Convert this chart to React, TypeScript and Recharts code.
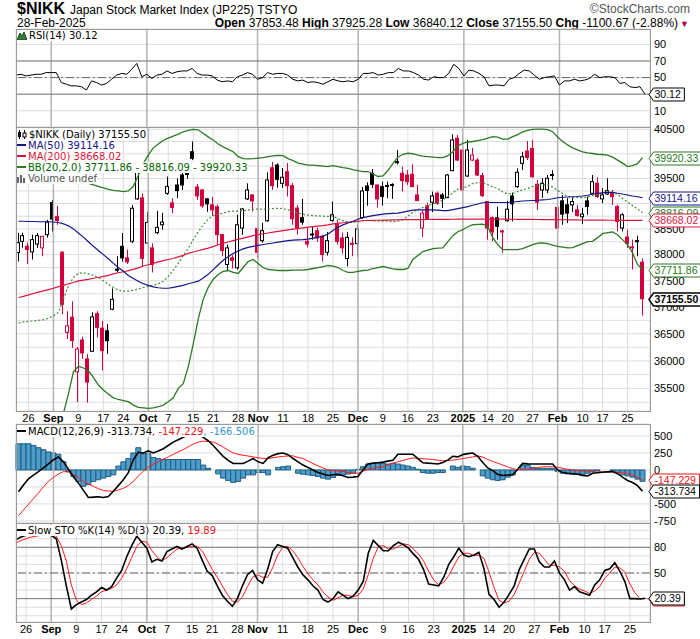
import React from 'react';
import {
  ComposedChart, Bar, Line, XAxis, YAxis, CartesianGrid, ReferenceLine, ReferenceDot,
} from 'recharts';

// trading days, Aug 22 2024 .. Feb 28 2025 (TSE calendar)
const MONTH_DAYS: [string, number[]][] = [
  ['2024-08', [22, 23, 26, 27, 28, 29, 30]],
  ['2024-09', [2, 3, 4, 5, 6, 9, 10, 11, 12, 13, 17, 18, 19, 20, 24, 25, 26, 27, 30]],
  ['2024-10', [1, 2, 3, 4, 7, 8, 9, 10, 11, 15, 16, 17, 18, 21, 22, 23, 24, 25, 28, 29, 30, 31]],
  ['2024-11', [1, 5, 6, 7, 8, 11, 12, 13, 14, 15, 18, 19, 20, 21, 22, 25, 26, 27, 28, 29]],
  ['2024-12', [2, 3, 4, 5, 6, 9, 10, 11, 12, 13, 16, 17, 18, 19, 20, 23, 24, 25, 26, 27, 30]],
  ['2025-01', [6, 7, 8, 9, 10, 14, 15, 16, 17, 20, 21, 22, 23, 24, 27, 28, 29, 30, 31]],
  ['2025-02', [3, 4, 5, 6, 7, 10, 12, 13, 14, 17, 18, 19, 20, 21, 25, 26, 27, 28]],
];

const X_TICKS: [string, string][] = [
  ['2024-08-26', '26'], ['2024-09-02', 'Sep'], ['2024-09-09', '9'], ['2024-09-17', '17'], ['2024-09-24', '24'],
  ['2024-10-01', 'Oct'], ['2024-10-07', '7'], ['2024-10-15', '15'], ['2024-10-21', '21'], ['2024-10-28', '28'],
  ['2024-11-01', 'Nov'], ['2024-11-11', '11'], ['2024-11-18', '18'], ['2024-11-25', '25'],
  ['2024-12-02', 'Dec'], ['2024-12-09', '9'], ['2024-12-16', '16'], ['2024-12-23', '23'],
  ['2025-01-06', '2025'], ['2025-01-14', '14'], ['2025-01-20', '20'], ['2025-01-27', '27'],
  ['2025-02-03', 'Feb'], ['2025-02-10', '10'], ['2025-02-17', '17'], ['2025-02-25', '25'],
];
const MONTH_STARTS = ['2024-09-02', '2024-10-01', '2024-11-01', '2024-12-02', '2025-01-06', '2025-02-03'];

const OPEN = [
  38040, 38258, 38160, 38050, 38205, 38130, 38387, 39019, 38741, 38045,
  36525, 36809, 35800, 36384, 36036, 36176, 36875, 36605, 36555, 36958,
  37720, 38160, 37937, 38258, 39092, 39112, 38225, 38130, 38426, 38581,
  39203, 39013, 39370, 39570, 39600, 40041, 39330, 39270, 39092, 38973,
  38934, 38387, 37809, 37937, 37745, 38517, 39092, 39171, 38503, 38271,
  38660, 39716, 39771, 39404, 39636, 39356, 38910, 38723, 38258, 38390,
  38465, 38355, 38045, 38665, 38595, 38323, 37924, 38220, 38213, 38724,
  39350, 39604, 39370, 39336, 39350, 39380, 39830, 39604, 39570, 39584,
  39171, 38517, 38954, 39026, 39204, 39171, 39117, 39656, 40316, 40075,
  39550, 39872, 39872, 39556, 39039, 38718, 38718, 38460, 38660, 39151,
  39336, 39805, 40055, 40110, 39384, 39270, 39270, 39560, 38920, 39052,
  38973, 38973, 38875, 38738, 39052, 39204, 39404, 39092, 39191, 39204,
  38940, 38517, 38342, 38150, 38270, 37853.48,
];
const HIGH = [
  38425, 38425, 38230, 38387, 38420, 38360, 38679, 39072, 38954, 38068,
  36921, 37108, 36255, 36445, 36127, 36902, 36921, 36740, 36679, 37352,
  37968, 38420, 38097, 38973, 39830, 39200, 38836, 38218, 38855, 38817,
  39537, 39105, 39502, 39690, 39771, 40250, 39390, 39290, 39111, 39131,
  38973, 38400, 38193, 37985, 38777, 38915, 39403, 39180, 38523, 38619,
  39623, 39832, 39806, 39710, 39812, 39410, 38973, 39092, 38532, 38542,
  38523, 38387, 38439, 39039, 38679, 38425, 38436, 38335, 38581, 39330,
  39424, 39690, 39380, 39436, 39436, 39404, 40075, 39737, 39670, 39785,
  39370, 38875, 39019, 39237, 39237, 39211, 39590, 40398, 40383, 40219,
  40281, 40116, 39912, 39610, 39045, 38744, 38940, 38484, 39052, 39217,
  39704, 40041, 40260, 40281, 39470, 39510, 39570, 39670, 38973, 39171,
  39105, 39117, 38973, 38908, 39138, 39570, 39524, 39304, 39504, 39270,
  38973, 38810, 38484, 38290, 38368, 37925.28,
];
const LOW = [
  37866, 38135, 37820, 37905, 38130, 37968, 38330, 38450, 38581, 36865,
  36402, 36240, 35255, 36036, 35244, 36164, 36433, 35824, 36127, 36940,
  37656, 37866, 37820, 38225, 39072, 37777, 38212, 37656, 38400, 38484,
  39171, 38810, 39105, 39270, 39497, 39872, 39072, 38914, 38836, 38757,
  38193, 37968, 37680, 37732, 37713, 38387, 39072, 38842, 37932, 38230,
  38640, 39270, 39316, 39310, 39138, 38581, 38387, 38581, 38141, 38290,
  38250, 37866, 37982, 38640, 38193, 38020, 37776, 37968, 37962, 38698,
  38954, 39310, 38920, 38960, 39105, 39092, 39785, 39237, 39370, 39330,
  39052, 38335, 38679, 38830, 38973, 38910, 39111, 39650, 39852, 39231,
  39530, 39852, 39550, 39131, 38290, 38257, 38290, 38033, 38640, 38646,
  39310, 39670, 39872, 39510, 38875, 39111, 39204, 39470, 38400, 38581,
  38614, 38830, 38738, 38595, 38777, 39190, 39111, 39006, 39171, 38973,
  38450, 38450, 38130, 37713, 37968, 36840.12,
];
const CLOSE = [
  38230, 38368, 38097, 38290, 38368, 38355, 38633, 38692, 38665, 37051,
  36648, 36375, 36218, 36145, 35614, 36815, 36620, 36188, 36372, 37145,
  37700, 37937, 37860, 38907, 39800, 37924, 38627, 37809, 38530, 38633,
  39337, 38924, 39256, 39370, 39580, 39906, 39151, 38954, 38993, 38875,
  38387, 38078, 38130, 37890, 38581, 38893, 39270, 39052, 38045, 38465,
  39470, 39356, 39484, 39524, 39356, 38698, 38517, 38633, 38206, 38400,
  38323, 38001, 38271, 38777, 38257, 38130, 38335, 38200, 38498, 39250,
  39262, 39384, 39092, 39138, 39360, 39365, 39840, 39456, 39436, 39336,
  39058, 38810, 38692, 39151, 39006, 39105, 39570, 40281, 39872, 39270,
  40075, 39973, 39570, 39157, 38517, 38440, 38549, 38445, 38888, 38993,
  39624, 39939, 39926, 39536, 39026, 39404, 39504, 39580, 38517, 38791,
  38810, 39039, 38764, 38791, 38940, 39436, 39138, 39171, 39256, 39138,
  38646, 38777, 38213, 38140, 38256.17, 37155.5,
];

const MA50 = [
  38650, 38650, 38645, 38645, 38640, 38640, 38640, 38635, 38625, 38600,
  38560, 38500, 38420, 38340, 38250, 38160, 38080, 38000, 37920, 37830,
  37750, 37680, 37600, 37540, 37490, 37440, 37410, 37380, 37365, 37355,
  37355, 37370, 37390, 37410, 37440, 37465, 37490, 37550, 37620, 37710,
  37800, 37890, 37960, 38020, 38070, 38110, 38140, 38160, 38180, 38195,
  38210, 38225, 38240, 38255, 38270, 38280, 38285, 38290, 38300, 38320,
  38340, 38355, 38400, 38470, 38530, 38580, 38615, 38650, 38690, 38720,
  38740, 38760, 38775, 38790, 38800, 38805, 38810, 38830, 38850, 38870,
  38875, 38875, 38875, 38875, 38870, 38860, 38860, 38880, 38900, 38920,
  38940, 38965, 38990, 39015, 39020, 39020, 39020, 39020, 39020, 39030,
  39040, 39050, 39055, 39060, 39065, 39072, 39080, 39095, 39115, 39125,
  39130, 39135, 39140, 39150, 39165, 39185, 39200, 39210, 39222, 39220,
  39205, 39190, 39170, 39150, 39135, 39114.16,
];
const MA200 = [
  37180, 37200, 37230, 37255, 37280, 37305, 37330, 37355, 37385, 37410,
  37440, 37465, 37495, 37510, 37525, 37545, 37560, 37580, 37600, 37630,
  37650, 37670, 37690, 37715, 37745, 37780, 37805, 37830, 37860, 37885,
  37905, 37925, 37955, 37985, 38025, 38050, 38075, 38100, 38125, 38155,
  38190, 38220, 38245, 38270, 38295, 38320, 38345, 38370, 38390, 38405,
  38420, 38435, 38450, 38465, 38480, 38495, 38505, 38520, 38535, 38545,
  38555, 38565, 38580, 38600, 38610, 38620, 38630, 38640, 38650, 38660,
  38665, 38668, 38670, 38672, 38674, 38676, 38678, 38680, 38680, 38681,
  38682, 38683, 38684, 38685, 38686, 38687, 38688, 38689, 38690, 38690,
  38690, 38690, 38691, 38691, 38692, 38692, 38692, 38691, 38690, 38689,
  38688, 38687, 38686, 38685, 38684, 38683, 38682, 38681, 38680, 38679,
  38678, 38677, 38676, 38675, 38674, 38673, 38672, 38671, 38670, 38670,
  38669, 38669, 38668, 38668, 38668, 38668.02,
];
const BB_UPPER = [
  39650, 39650, 39640, 39620, 39600, 39580, 39560, 39540, 39510, 39480,
  39470, 39450, 39430, 39415, 39400, 39370, 39340, 39310, 39280, 39260,
  39250, 39237, 39250, 39337, 39560, 39805, 39970, 40120, 40200, 40270,
  40320, 40360, 40400, 40450, 40480, 40500, 40490, 40420, 40345, 40280,
  40200, 40140, 40090, 40040, 39940, 39900, 39895, 39900, 39910, 39920,
  39940, 39955, 39968, 39960, 39900, 39860, 39810, 39790, 39770, 39770,
  39760, 39750, 39740, 39760, 39740, 39720, 39705, 39680, 39660, 39640,
  39640, 39590, 39540, 39550, 39660, 39800, 39930, 39990, 40010, 40000,
  39970, 39950, 39940, 39930, 39920, 39920, 39960, 40040, 40160, 40210,
  40240, 40250, 40270, 40290, 40320, 40350, 40340, 40300, 40300, 40350,
  40390, 40450, 40480, 40500, 40505, 40505, 40495, 40450, 40340, 40250,
  40180, 40120, 40080, 40040, 40020, 40005, 39990, 39985, 39970, 39930,
  39870, 39810, 39740, 39760, 39800, 39920.33,
];
const BB_MID = [
  36700, 36720, 36730, 36740, 36750, 36760, 36790, 36830, 36900, 37150,
  37400, 37560, 37640, 37650, 37630, 37600, 37560, 37500, 37430, 37370,
  37320, 37300, 37300, 37315, 37340, 37370, 37390, 37410, 37440, 37490,
  37580, 37700, 37830, 37980, 38120, 38290, 38440, 38580, 38690, 38760,
  38790, 38810, 38840, 38850, 38850, 38860, 38870, 38885, 38890, 38890,
  38895, 38900, 38905, 38900, 38875, 38840, 38810, 38790, 38770, 38760,
  38755, 38750, 38745, 38750, 38700, 38660, 38640, 38630, 38640, 38660,
  38670, 38660, 38650, 38655, 38650, 38640, 38650, 38680, 38750, 38830,
  38880, 38920, 38960, 38990, 39030, 39070, 39140, 39210, 39290, 39310,
  39340, 39400, 39415, 39420, 39380, 39330, 39300, 39230, 39190, 39200,
  39240, 39270, 39300, 39340, 39360, 39370, 39370, 39330, 39260, 39200,
  39140, 39120, 39120, 39115, 39130, 39160, 39185, 39215, 39240, 39210,
  39180, 39100, 39030, 38960, 38890, 38816.09,
];
const BB_LOWER = [
  34200, 34250, 34300, 34350, 34400, 34450, 34500, 34600, 34700, 35050,
  35400, 35800, 35900, 35870, 35820, 35700, 35560, 35470, 35400, 35330,
  35300, 35280, 35260, 35200, 35160, 35150, 35140, 35150, 35170, 35200,
  35260, 35330, 35500, 35584, 35890, 36310, 36772, 37145, 37371, 37523,
  37618, 37675, 37694, 37656, 37637, 37751, 37866, 37905, 37828, 37751,
  37713, 37705, 37694, 37694, 37694, 37700, 37700, 37700, 37713, 37732,
  37751, 37770, 37790, 37776, 37751, 37694, 37656, 37656, 37675, 37694,
  37700, 37732, 37751, 37770, 37751, 37726, 37713, 37713, 37732, 37905,
  37982, 38059, 38088, 38116, 38125, 38130, 38251, 38368, 38445, 38484,
  38542, 38581, 38590, 38595, 38549, 38329, 38193, 38097, 38097, 38097,
  38097, 38116, 38155, 38193, 38222, 38225, 38213, 38184, 38160, 38145,
  38130, 38135, 38174, 38213, 38251, 38257, 38329, 38406, 38425, 38439,
  38387, 38290, 38193, 38033, 37809, 37711.86,
];

const RSI = [
  53, 54, 52, 53, 54, 54, 56, 56, 56, 44,
  42, 40, 40, 39, 35, 46, 44, 41, 43, 48,
  53, 55, 54, 60, 67, 51, 54, 49, 53, 54,
  58, 55, 57, 58, 58, 61, 55, 53, 53, 52,
  47, 45, 46, 45, 51, 53, 56, 54, 48, 50,
  56, 54, 55, 55, 53, 48, 46, 47, 44, 45,
  44, 42, 45, 48, 46, 45, 46, 45, 48, 55,
  55, 56, 53, 54, 56, 56, 61, 58, 58, 56,
  53, 48, 47, 51, 50, 50, 55, 66, 61, 52,
  59, 58, 55, 51, 40, 41, 41, 40, 48, 50,
  55, 59, 58, 53, 48, 50, 51, 52, 41, 46,
  46, 48, 46, 47, 49, 54, 50, 51, 51, 50,
  43, 44, 39, 38, 39, 30.12,
];

const MACD = [
  -320, -220, -130, -75, -25, 30, 90, 150, 190, 120,
  10, -100, -190, -300, -405, -400, -395, -405, -390, -313,
  -230, -144, -40, 150, 260, 250, 280, 250, 280, 313,
  360, 409, 445, 481, 520, 550, 530, 480, 430, 360,
  280, 200, 140, 96, 96, 96, 130, 168, 120, 96,
  180, 215, 240, 250, 225, 168, 120, 72, 35, 0,
  -38, -60, -82, -70, -63, -85, -110, -105, -96, 0,
  87, 100, 106, 115, 130, 144, 231, 231, 231, 231,
  168, 106, 100, 96, 87, 110, 144, 202, 192, 226,
  240, 250, 200, 110, 30, -10, -65, -82, -75, -72,
  10, 96, 90, 87, 87, 87, 87, 87, 0, -38,
  -48, -55, -63, -80, -87, -48, -40, -34, -28, -24,
  -55, -105, -155, -185, -230, -313.734,
];
const SIGNAL = [
  -673, -590, -505, -420, -337, -250, -168, -110, -58, -24,
  -30, -72, -110, -168, -205, -240, -275, -303, -310, -313,
  -295, -270, -230, -168, -90, -20, 40, 85, 125, 160,
  192, 230, 265, 300, 340, 380, 410, 423, 420, 409,
  380, 337, 290, 250, 230, 216, 205, 192, 180, 170,
  168, 180, 192, 200, 205, 207, 185, 168, 130, 95,
  60, 30, 0, -10, -14, -20, -38, -45, -48, -20,
  10, 25, 38, 48, 75, 100, 120, 140, 160, 178,
  170, 165, 160, 154, 145, 135, 140, 144, 155, 168,
  180, 192, 207, 190, 154, 125, 100, 72, 45, 20,
  0, 5, 10, 20, 38, 45, 48, 48, 40, 25,
  10, 0, -8, -14, -20, -29, -29, -27, -24, -30,
  -38, -40, -55, -72, -105, -147.229,
];
const HIST = [
  385, 385, 385, 361, 327, 298, 265, 250, 231, 120,
  -24, -96, -168, -240, -216, -168, -144, -120, -96, -72,
  58, 120, 168, 250, 327, 240, 240, 183, 168, 154,
  154, 154, 154, 154, 154, 154, 154, 72, 24, 0,
  -58, -120, -154, -183, -168, -120, -72, -72, -38, -38,
  -72, 0, 38, 48, 58, 0, -48, -63, -72, -82,
  -96, -120, -135, -110, -82, -72, -60, -48, 10, 48,
  87, 96, 106, 96, 87, 96, 87, 72, 58, 38,
  10, -38, -48, -48, -38, -38, 0, 58, 38, 58,
  48, 24, 0, -87, -120, -144, -154, -144, -106, -72,
  0, 72, 72, 38, 24, 24, 24, 24, -24, -48,
  -58, -63, -58, -63, -48, -24, -10, 0, 0, -10,
  -38, -72, -87, -106, -135, -166.506,
];

const STO_K = [
  89, 92, 94, 95, 95, 95, 95, 94, 90, 65,
  35, 8, 13, 16, 19, 24, 28, 33, 30, 34,
  44, 53, 69, 82, 93, 86, 79, 63, 66, 64,
  75, 78, 81, 78, 81, 84, 79, 65, 52, 47,
  35, 24, 17, 11, 20, 35, 48, 53, 42, 38,
  54, 75, 83, 81, 79, 68, 57, 48, 42, 35,
  30, 19, 16, 20, 28, 24, 20, 23, 30, 40,
  73, 88, 82, 76, 76, 82, 86, 83, 79, 72,
  66, 54, 37, 36, 35, 45, 60, 69, 79, 71,
  69, 71, 74, 55, 25, 19, 10, 16, 25, 35,
  54, 66, 78, 78, 63, 57, 57, 64, 50, 42,
  30, 34, 28, 26, 24, 36, 42, 53, 55, 62,
  52, 40, 20, 20, 19.5, 20.39,
];
const STO_D = [
  85, 88, 90, 92, 93, 94, 95, 95, 93, 82,
  64, 36, 18, 13, 15, 19, 23, 28, 30, 32,
  36, 44, 55, 68, 81, 87, 86, 76, 69, 64,
  68, 73, 78, 79, 80, 81, 81, 76, 65, 54,
  45, 35, 25, 17, 16, 22, 34, 45, 48, 45,
  45, 56, 71, 80, 81, 76, 68, 58, 49, 42,
  36, 28, 22, 18, 21, 24, 24, 22, 24, 31,
  48, 67, 81, 82, 78, 78, 81, 84, 83, 78,
  72, 64, 52, 42, 36, 39, 47, 58, 69, 73,
  73, 70, 71, 67, 51, 33, 18, 15, 17, 25,
  38, 52, 66, 74, 73, 66, 59, 59, 57, 52,
  41, 35, 31, 29, 26, 29, 34, 44, 50, 57,
  56, 51, 37, 27, 20, 19.89,
];

const PRICE_TICKS = [
  35250, 35500, 35750, 36000, 36250, 36500, 36750, 37000, 37250, 37500, 37750,
  38000, 38250, 38500, 38750, 39000, 39250, 39500, 39750, 40000, 40250, 40500,
];
// labels that sit fully under a value box in the reference
const PRICE_HIDDEN = [40000, 39000];

const FONT = '"Liberation Sans", Arial, sans-serif';
const LFONT = '"DejaVu Sans", Verdana, sans-serif';
const RED = '#d4003b';
const NAVY = '#14148c';
const CRIMSON = '#dc143c';
const GREEN = '#2a7a22';
const GRID = '#dddddd';
const MONTH_LINE = '#b4b4b4';
const HIST_FILL = '#4d9cc9';
const HIST_EDGE = '#1f5d80';

const DATES = MONTH_DAYS.flatMap(([m, days]) => days.map((d) => `${m}-${String(d).padStart(2, '0')}`));
const LAST = DATES[DATES.length - 1];
const TICK_VALUES = X_TICKS.map((t) => t[0]);
const TICK_LABEL: Record<string, string> = Object.fromEntries(X_TICKS);

const rows = DATES.map((d, i) => ({
  d,
  o: OPEN[i], h: HIGH[i], l: LOW[i], c: CLOSE[i], pc: i > 0 ? CLOSE[i - 1] : null,
  range: [LOW[i], HIGH[i]],
  ma50: MA50[i], ma200: MA200[i], bbu: BB_UPPER[i], bbm: BB_MID[i], bbl: BB_LOWER[i],
  rsi: RSI[i], macd: MACD[i], signal: SIGNAL[i], hist: HIST[i], k: STO_K[i], dd: STO_D[i],
}));

function Candle(props: any) {
  const { x, y, width, height, payload } = props;
  if (!payload || y == null || !height) return null;
  const { o, h, l, c, pc } = payload;
  const yTop = Math.min(y, y + height);
  const span = Math.abs(height);
  const lh = Math.log(h) - Math.log(l);
  const yAt = (v: number) => yTop + (span * (Math.log(h) - Math.log(v))) / lh;
  const wx = Math.round(x + width / 2);
  const color = pc == null || c >= pc ? '#000' : RED;
  const hollow = c > o;
  const b0 = yAt(Math.max(o, c));
  const b1 = Math.max(yAt(Math.min(o, c)), b0 + 1);
  return (
    <g>
      <line x1={wx - 0.5} x2={wx - 0.5} y1={yTop} y2={yTop + span} stroke={color} strokeWidth={1} />
      <rect x={wx - 2.5} y={b0} width={3} height={b1 - b0} fill={hollow ? '#fff' : color} stroke={color} strokeWidth={1} />
    </g>
  );
}

function textW(s: string) {
  let w = 0;
  for (const ch of s) w += ch === '.' ? 2.95 : ch === '-' ? 3.5 : 5.85;
  return w;
}

// value box with a left-pointing tip, sitting just right of the plot
function Tag({ cy, text, color, bold, boxOnly }: any) {
  if (cy == null) return null;
  const x0 = 649;
  const hh = 6.5;
  const w = textW(text) + 9;
  const yc = Math.round(cy) + 0.5;
  const pts = `${x0},${yc} ${x0 + 4.5},${yc - hh} ${x0 + w},${yc - hh} ${x0 + w},${yc + hh} ${x0 + 4.5},${yc + hh}`;
  return (
    <g>
      <polygon points={pts} fill="#fff" stroke={color} strokeWidth={bold ? 1.5 : 1} />
      {boxOnly ? null : (
        <text x={x0 + 5.5} y={yc} dy="0.36em" fontSize={10.5} fontFamily={FONT} fontWeight={bold ? 700 : 400} fill={color}>
          {text}
        </text>
      )}
    </g>
  );
}

function DateTick({ x, y, payload }: any) {
  const v = payload && payload.value;
  const bold = MONTH_STARTS.includes(v);
  return (
    <text x={x} y={y + 11} textAnchor="middle" fontSize={11} fontFamily={FONT} fontWeight={bold ? 700 : 400} fill="#000">
      {TICK_LABEL[v]}
    </text>
  );
}

function xAxis(labels: boolean, height: number) {
  return (
    <XAxis
      dataKey="d"
      type="category"
      ticks={TICK_VALUES}
      interval={0}
      height={height}
      padding={{ left: 0, right: 5 }}
      axisLine={false}
      tickLine={false}
      tickSize={0}
      tickMargin={0}
      tick={labels ? (p: any) => <DateTick {...p} /> : false}
    />
  );
}

function yAxis(domain: number[], ticks: number[], fmt?: (v: number) => string, log?: boolean, showTicks = true) {
  return (
    <YAxis
      orientation="right"
      width={50}
      type="number"
      scale={log ? 'log' : 'linear'}
      domain={domain}
      allowDataOverflow
      ticks={ticks}
      interval={0}
      tickFormatter={fmt}
      axisLine={false}
      tickLine={false}
      tickSize={0}
      tickMargin={4}
      tick={showTicks ? { fontSize: 11, fill: '#000', fontFamily: FONT } : false}
    />
  );
}

const monthLines = MONTH_STARTS.map((d) => (
  <ReferenceLine key={d} x={d} stroke={MONTH_LINE} strokeWidth={1.5} />
));

type TagSpec = { y: number; text: string; color: string; bold?: boolean; boxOnly?: boolean };

// a transparent chart with the same scales, drawn on top so the boxes cover the tick labels
function TagLayer({ height, top, bottom = 0, xh, domain, log, tags }: { height: number; top: number; bottom?: number; xh: number; domain: number[]; log?: boolean; tags: TagSpec[] }) {
  return (
    <div style={{ position: 'absolute', left: 0, top: 0 }}>
      <ComposedChart width={700} height={height} data={rows} margin={{ top, right: 0, bottom, left: 16 }}>
        {xAxis(false, xh)}
        {yAxis(domain, [], undefined, log, false)}
        {tags.map((t) => (
          <ReferenceDot
            key={t.text}
            x={LAST}
            y={t.y}
            r={0}
            shape={(p: any) => <Tag cy={p.cy} text={t.text} color={t.color} bold={t.bold} boxOnly={t.boxOnly} />}
          />
        ))}
      </ComposedChart>
    </div>
  );
}

const abs = (top: number): React.CSSProperties => ({ position: 'absolute', left: 0, top });

function Frame({ top, height }: { top: number; height: number }) {
  return (
    <div style={{ position: 'absolute', left: 16, top, width: 635, height, border: '1px solid #9a9a9a', boxSizing: 'border-box', pointerEvents: 'none' }} />
  );
}

const dash = (color: string) => (
  <span style={{ display: 'inline-block', width: 9, height: 2, background: color, verticalAlign: 'middle', marginRight: 2, marginTop: -2 }} />
);

function LegendRow({ children, color = '#000' }: { children: React.ReactNode; color?: string }) {
  return (
    <div style={{ width: 'fit-content', background: '#fff', color, fontSize: 10, lineHeight: '11px', height: 11, whiteSpace: 'nowrap', fontFamily: LFONT }}>
      {children}
    </div>
  );
}

export default function App() {
  return (
    <div style={{ position: 'absolute', left: 0, top: 0, width: 700, height: 639, background: '#fff', fontFamily: FONT, overflow: 'hidden' }}>
      {/* header */}
      <div style={{ position: 'absolute', left: 17, top: 0, whiteSpace: 'nowrap', lineHeight: '18px' }}>
        <span style={{ fontSize: 16, fontWeight: 700 }}>$NIKK</span>
        <span style={{ fontSize: 12, marginLeft: 5 }}>Japan Stock Market Index (JP225) TSTYO</span>
      </div>
      <div style={{ position: 'absolute', right: 10, top: 2, fontSize: 12, color: '#555', lineHeight: '14px' }}>©StockCharts.com</div>
      <div style={{ position: 'absolute', left: 17, top: 16, fontSize: 12, lineHeight: '14px' }}>28-Feb-2025</div>
      <div style={{ position: 'absolute', right: 11, top: 16, fontSize: 12, lineHeight: '14px', whiteSpace: 'nowrap' }}>
        <b>Open</b> 37853.48 <b>High</b> 37925.28 <b>Low</b> 36840.12 <b>Close</b> 37155.50 <b>Chg</b> -1100.67 (-2.88%)
        <span style={{ color: '#b0003a', fontSize: 9, marginLeft: 2 }}>▼</span>
      </div>

      {/* RSI */}
      <div style={abs(0)}>
        <ComposedChart width={700} height={127} data={rows} margin={{ top: 29, right: 0, bottom: 0, left: 16 }}>
          <CartesianGrid stroke={GRID} />
          {xAxis(false, 0)}
          {yAxis([-9.5, 108.5], [10, 30, 50, 70, 90], (v) => (v === 30 ? '' : String(v)))}
          {monthLines}
          <ReferenceLine y={70} stroke="#7a7a7a" />
          <ReferenceLine y={30} stroke="#7a7a7a" />
          <ReferenceLine y={50} stroke="#666" strokeDasharray="8 3 2 3" />
          <Line dataKey="rsi" stroke="#000" strokeWidth={1} dot={false} isAnimationActive={false} />
        </ComposedChart>
      </div>

      {/* price */}
      <div style={abs(0)}>
        <ComposedChart width={700} height={425} data={rows} margin={{ top: 127, right: 0, bottom: 0, left: 16 }} barCategoryGap={0} barGap={0}>
          <CartesianGrid stroke={GRID} />
          {xAxis(true, 14)}
          {yAxis([35094, 40548], PRICE_TICKS, (v) => (v % 500 === 0 && !PRICE_HIDDEN.includes(v) ? String(v) : ''), true)}
          {monthLines}
          <Bar dataKey="range" isAnimationActive={false} shape={(p: any) => <Candle {...p} />} />
          <Line dataKey="bbu" stroke={GREEN} strokeWidth={1.3} dot={false} isAnimationActive={false} />
          <Line dataKey="bbl" stroke={GREEN} strokeWidth={1.3} dot={false} isAnimationActive={false} />
          <Line dataKey="bbm" stroke="#3f8f3a" strokeWidth={1.2} strokeDasharray="2 2" dot={false} isAnimationActive={false} />
          <Line dataKey="ma200" stroke={CRIMSON} strokeWidth={1.2} dot={false} isAnimationActive={false} />
          <Line dataKey="ma50" stroke={NAVY} strokeWidth={1.2} dot={false} isAnimationActive={false} />
        </ComposedChart>
      </div>

      {/* MACD */}
      <div style={abs(0)}>
        <ComposedChart width={700} height={530} data={rows} margin={{ top: 424, right: 0, bottom: 7, left: 16 }} barCategoryGap={0} barGap={0}>
          <CartesianGrid stroke={GRID} />
          {xAxis(false, 0)}
          {yAxis([-780, 676], [-750, -500, -250, 0, 250, 500], (v) => (v === -250 ? '' : String(v)))}
          {monthLines}
          <Bar dataKey="hist" fill={HIST_FILL} stroke={HIST_EDGE} strokeWidth={1} isAnimationActive={false} />
          <Line dataKey="signal" stroke="#ff1a1a" strokeWidth={1} dot={false} isAnimationActive={false} />
          <Line dataKey="macd" stroke="#000" strokeWidth={1.6} dot={false} isAnimationActive={false} />
        </ComposedChart>
      </div>

      {/* Slow stochastic */}
      <div style={abs(0)}>
        <ComposedChart width={700} height={639} data={rows} margin={{ top: 523, right: 0, bottom: 0, left: 16 }}>
          <CartesianGrid stroke={GRID} />
          {xAxis(true, 17)}
          {yAxis([-7.3, 108.4], [0, 10, 20, 30, 40, 50, 60, 70, 80, 90, 100], (v) => (v === 50 || v === 80 ? String(v) : ''))}
          {monthLines}
          <ReferenceLine y={80} stroke="#7a7a7a" />
          <ReferenceLine y={20} stroke="#7a7a7a" />
          <ReferenceLine y={50} stroke="#666" strokeDasharray="8 3 2 3" />
          <Line dataKey="dd" stroke="#ff1a1a" strokeWidth={1} dot={false} isAnimationActive={false} />
          <Line dataKey="k" stroke="#000" strokeWidth={1.6} dot={false} isAnimationActive={false} />
        </ComposedChart>
      </div>

      <Frame top={29} height={99} />
      <Frame top={127} height={285} />
      <Frame top={424} height={100} />
      <Frame top={523} height={100} />

      <TagLayer height={127} top={29} xh={0} domain={[-9.5, 108.5]} tags={[{ y: 30.12, text: '30.12', color: '#000' }]} />
      <TagLayer
        height={425}
        top={127}
        xh={14}
        domain={[35094, 40548]}
        log
        tags={[
          { y: 39920.33, text: '39920.33', color: GREEN },
          { y: 39114.16, text: '39114.16', color: NAVY },
          { y: 38816.09, text: '38816.09', color: GREEN },
          { y: 38668.02, text: '38668.02', color: CRIMSON },
          { y: 37711.86, text: '37711.86', color: GREEN },
          { y: 37155.5, text: '37155.50', color: '#000', bold: true },
        ]}
      />
      <TagLayer
        height={530}
        top={424}
        bottom={7}
        xh={0}
        domain={[-780, 676]}
        tags={[
          { y: -147.229, text: '-147.229', color: '#ee1111' },
          { y: -313.734, text: '-313.734', color: '#000' },
        ]}
      />
      <TagLayer
        height={639}
        top={523}
        xh={17}
        domain={[-7.3, 108.4]}
        tags={[
          { y: 19.89, text: '19.89', color: '#ee1111', boxOnly: true },
          { y: 20.39, text: '20.39', color: '#000' },
        ]}
      />

      {/* legends */}
      <div style={{ position: 'absolute', left: 17, top: 30 }}>
        <LegendRow>
          <svg width={10} height={9} style={{ marginRight: 2, verticalAlign: 'middle', marginTop: -2 }}>
            <polygon points="0,9 3,2 5,5 7,1 10,9" fill="#2f7d32" stroke="#1b4d1e" />
          </svg>
          RSI(14) 30.12
        </LegendRow>
      </div>
      <div style={{ position: 'absolute', left: 17, top: 129 }}>
        <LegendRow>
          <svg width={10} height={9} style={{ marginRight: 2, verticalAlign: 'middle', marginTop: -2 }}>
            <line x1={2.5} x2={2.5} y1={0} y2={9} stroke="#000" />
            <rect x={1} y={2} width={3} height={5} fill="#000" />
            <line x1={7.5} x2={7.5} y1={0} y2={9} stroke="#000" />
            <rect x={6} y={3} width={3} height={4} fill="#fff" stroke="#000" />
          </svg>
          $NIKK (Daily) 37155.50
        </LegendRow>
        <LegendRow color={NAVY}>{dash(NAVY)}MA(50) 39114.16</LegendRow>
        <LegendRow color={CRIMSON}>{dash(CRIMSON)}MA(200) 38668.02</LegendRow>
        <LegendRow color="#006400">{dash(GREEN)}BB(20,2.0) 37711.86 - 38816.09 - 39920.33</LegendRow>
        <LegendRow color="#555">
          <svg width={10} height={9} style={{ marginRight: 1, verticalAlign: 'middle', marginTop: -2 }}>
            <rect x={0} y={3} width={2} height={6} fill="#666" />
            <rect x={3} y={1} width={2} height={8} fill="#666" />
            <rect x={6} y={4} width={2} height={5} fill="#666" />
          </svg>
          Volume undef
        </LegendRow>
      </div>
      <div style={{ position: 'absolute', left: 17, top: 426 }}>
        <LegendRow>
          {dash('#000')}MACD(12,26,9) -313.734<span style={{ color: '#ee1111' }}>, -147.229</span>
          <span style={{ color: '#3399cc' }}>, -166.506</span>
        </LegendRow>
      </div>
      <div style={{ position: 'absolute', left: 17, top: 525 }}>
        <LegendRow>
          {dash('#000')}Slow STO %K(14) %D(3) 20.39, <span style={{ color: '#ee1111' }}>19.89</span>
        </LegendRow>
      </div>
    </div>
  );
}
